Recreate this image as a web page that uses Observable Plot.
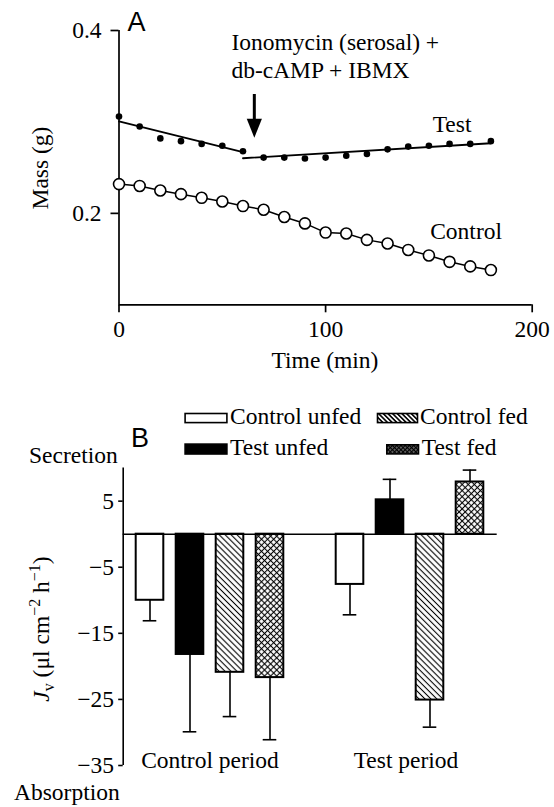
<!DOCTYPE html>
<html><head><meta charset="utf-8">
<script src="https://cdn.jsdelivr.net/npm/d3@7"></script>
<script src="https://cdn.jsdelivr.net/npm/@observablehq/plot@0.6"></script>
<style>
body{margin:0;background:#fff;}
#wrap{position:relative;width:554px;height:807px;overflow:hidden;}
#wrap > svg{display:block;}
#overlay{position:absolute;left:0;top:0;pointer-events:none;}
</style></head><body>
<svg width="0" height="0" style="position:absolute">
<defs>
<pattern id="hatch" patternUnits="userSpaceOnUse" width="4.2" height="4.2" patternTransform="rotate(-45)">
<rect width="4.2" height="4.2" fill="#fff"/><line x1="2.1" y1="-1" x2="2.1" y2="5.2" stroke="#000" stroke-width="1.1"/></pattern>
<pattern id="cross" patternUnits="userSpaceOnUse" width="4.3" height="4.3" patternTransform="rotate(45)">
<rect width="4.3" height="4.3" fill="#fff"/><line x1="2.15" y1="-1" x2="2.15" y2="5.3" stroke="#000" stroke-width="1.1"/><line x1="-1" y1="2.15" x2="5.3" y2="2.15" stroke="#000" stroke-width="1.1"/></pattern>
<pattern id="hatchL" patternUnits="userSpaceOnUse" width="3.3" height="3.3" patternTransform="rotate(-45)">
<rect width="3.3" height="3.3" fill="#fff"/><line x1="1.65" y1="-1" x2="1.65" y2="4.3" stroke="#000" stroke-width="1.6"/></pattern>
<pattern id="crossL" patternUnits="userSpaceOnUse" width="3" height="3" patternTransform="rotate(45)">
<rect width="3" height="3" fill="#fff"/><line x1="1.5" y1="-1" x2="1.5" y2="4" stroke="#000" stroke-width="1.8"/><line x1="-1" y1="1.5" x2="4" y2="1.5" stroke="#000" stroke-width="1.8"/></pattern>
</defs></svg>
<div id="wrap"></div>
<script>
// ---------- Panel A data ----------
const times = [0,10,20,30,40,50,60,70,80,90,100,110,120,130,140,150,160,170,180];
const testMass = [0.306,0.295,0.282,0.279,0.276,0.274,0.268,0.261,0.261,0.260,0.261,0.263,0.265,0.270,0.273,0.274,0.276,0.276,0.279];
const controlMass = [0.232,0.230,0.225,0.221,0.217,0.213,0.208,0.204,0.196,0.189,0.179,0.178,0.171,0.167,0.160,0.154,0.147,0.142,0.138];
const fit1Time = [0, 60], fit1Mass = [0.3005, 0.2669];
const fit2Time = [60, 180], fit2Mass = [0.2603, 0.2767];
const xTicksA = [0, 100, 200];
const yTicksA = [0.2, 0.4];
const arrowTime = 65.5, arrowTop = 0.330, arrowShaftEnd = 0.296, arrowTip = 0.2826;
const annotLines = ["Ionomycin (serosal) +", "db-cAMP + IBMX"];
const annotTime = 54.4, annotMass = [0.3874, 0.3568];
const seriesLabels = [{t: 161.2, m: 0.2977, text: "Test"}, {t: 168, m: 0.1807, text: "Control"}];

// ---------- Panel B data ----------
const periods = ["Control period", "Test period"];
const groups = ["Control unfed", "Test unfed", "Control fed", "Test fed"];
const jvControl = [-10.0, -18.2, -20.9, -21.7];
const semControl = [3.1, 11.7, 6.7, 9.4];
const jvTest = [-7.6, 5.2, -25.1, 7.9];
const semTest = [4.6, 3.1, 4.1, 1.8];
const yTicksB = [5, -5, -15, -25, -35];
const groupFill = {"Control unfed": "white", "Test unfed": "black", "Control fed": "url(#hatch)", "Test fed": "url(#cross)"};
const legendFill = {"Control unfed": "white", "Test unfed": "black", "Control fed": "url(#hatchL)", "Test fed": "url(#crossL)"};

const testData = times.map((t, i) => ({t, m: testMass[i]}));
const controlData = times.map((t, i) => ({t, m: controlMass[i]}));
const fit1 = fit1Time.map((t, i) => ({t, m: fit1Mass[i]}));
const fit2 = fit2Time.map((t, i) => ({t, m: fit2Mass[i]}));
const annot = annotLines.map((text, i) => ({t: annotTime, m: annotMass[i], text}));

const downTri = {draw(ctx, size) {
  const r = Math.sqrt(size / Math.PI), h = 2 * r, w = 1.6 * r;
  ctx.moveTo(0, 0); ctx.lineTo(-w / 2, -h); ctx.lineTo(w / 2, -h); ctx.closePath();
}};

const serif = "font-family:'Liberation Serif','Times New Roman',serif;font-size:23.5px;overflow:visible;background:transparent;";

const plotA = Plot.plot({
  width: 554, height: 372,
  marginTop: 30, marginBottom: 67.7, marginLeft: 118.5, marginRight: 22.3,
  style: serif,
  x: {domain: [0, 200]},
  y: {domain: [0.1, 0.4]},
  marks: [
    Plot.ruleX([0], {strokeWidth: 1.7}),
    Plot.ruleY([0.1], {strokeWidth: 1.7}),
    Plot.axisX({ticks: xTicksA, tickSize: 8, tickPadding: 7.7, strokeWidth: 1.7, label: null}),
    Plot.axisY({ticks: yTicksA, tickSize: 8, tickPadding: 9.5, strokeWidth: 1.7, tickFormat: d3.format(".1f"), label: null}),
    Plot.line(controlData, {x: "t", y: "m", strokeWidth: 1.5}),
    Plot.dot(controlData, {x: "t", y: "m", r: 5.5, fill: "white", stroke: "black", strokeWidth: 1.6}),
    Plot.line(fit1, {x: "t", y: "m", strokeWidth: 1.8}),
    Plot.line(fit2, {x: "t", y: "m", strokeWidth: 1.8}),
    Plot.dot(testData, {x: "t", y: "m", r: 3.3, fill: "black", stroke: "none"}),
    Plot.ruleX([arrowTime], {x: d => d, y1: arrowTop, y2: arrowShaftEnd, strokeWidth: 3}),
    Plot.dot([arrowTime], {x: d => d, y: arrowTip, symbol: downTri, r: 9.5, fill: "black", stroke: "none"}),
    Plot.text(annot, {x: "t", y: "m", text: "text", textAnchor: "start", fill: "black"}),
    Plot.text(seriesLabels, {x: "t", y: "m", text: "text", fill: "black"})
  ]
});

const bars = [];
[jvControl, jvTest].forEach((vals, p) => {
  const sems = p === 0 ? semControl : semTest;
  vals.forEach((v, g) => {
    const slot = p * 5 + g;
    const end = v + Math.sign(v) * sems[g];
    bars.push({period: periods[p], group: groups[g], slot, v, end, fill: groupFill[groups[g]]});
  });
});
const xDomainB = [-0.67, 8.68];
const periodText = periods.map((text, p) => ({text, x: p === 0 ? 1.5 : 6.4}));

const plotB = Plot.plot({
  width: 554, height: 435,
  marginTop: 95.6, marginBottom: 42, marginLeft: 122.7, marginRight: 57.3,
  style: serif,
  x: {domain: xDomainB, axis: null},
  y: {domain: [-35, 10]},
  color: {type: "identity"},
  marks: [
    Plot.ruleX([xDomainB[0]], {strokeWidth: 1.6}),
    Plot.axisY({ticks: yTicksB, tickSize: 4.5, tickPadding: 4.6, strokeWidth: 1.6, label: null}),
    Plot.ruleX(bars, {x: "slot", y1: "v", y2: "end", strokeWidth: 1.6}),
    Plot.ruleY(bars, {y: "end", x1: d => d.slot - 0.17, x2: d => d.slot + 0.17, strokeWidth: 1.6}),
    Plot.rect(bars, {x1: d => d.slot - 0.345, x2: d => d.slot + 0.345, y1: 0, y2: "v", fill: "fill", stroke: "black", strokeWidth: 2}),
    Plot.ruleY([0], {strokeWidth: 1.6}),
    Plot.text(periodText, {x: "x", y: -34.3, text: "text", fill: "black"})
  ]
});

const wrap = document.getElementById("wrap");
wrap.appendChild(plotA);
wrap.appendChild(plotB);

// ---------- overlay: panel letters, axis titles, legend ----------
const ov = d3.select(wrap).append("svg").attr("id", "overlay")
  .attr("width", 554).attr("height", 807)
  .style("font-family", "'Liberation Serif','Times New Roman',serif").style("font-size", "23.5px");

ov.append("text").attr("x", 127.5).attr("y", 31).style("font-family", "'Liberation Sans',Arial,sans-serif").style("font-size", "27px").text("A");
ov.append("text").attr("x", 131).attr("y", 447).style("font-family", "'Liberation Sans',Arial,sans-serif").style("font-size", "27px").text("B");

ov.append("text").attr("transform", "translate(48,168) rotate(-90)").attr("text-anchor", "middle").text("Mass (g)");
ov.append("text").attr("x", 325).attr("y", 368).attr("text-anchor", "middle").text("Time (min)");

ov.append("text").attr("x", 29).attr("y", 463).text("Secretion");
ov.append("text").attr("x", 14).attr("y", 800).text("Absorption");

const jl = ov.append("text").attr("transform", "translate(48.5,629) rotate(-90)").attr("text-anchor", "middle");
jl.append("tspan").style("font-style", "italic").text("J");
jl.append("tspan").attr("dy", 5).style("font-size", "16px").text("v");
jl.append("tspan").attr("dy", -5).text(" (\u03bcl cm");
jl.append("tspan").attr("dy", -9).style("font-size", "16px").text("\u22122");
jl.append("tspan").attr("dy", 9).text(" h");
jl.append("tspan").attr("dy", -9).style("font-size", "16px").text("\u22121");
jl.append("tspan").attr("dy", 9).text(")");

const legendItems = [
  {g: "Control unfed", rx: 184.3, ry: 412.7, rw: 43.4, rh: 10.7, tx: 230, ty: 424.3},
  {g: "Control fed", rx: 376.7, ry: 412.7, rw: 41.6, rh: 10.7, tx: 420, ty: 424.3},
  {g: "Test unfed", rx: 184.3, ry: 443.3, rw: 43.4, rh: 11.5, tx: 230, ty: 455},
  {g: "Test fed", rx: 386, ry: 444, rw: 33.3, rh: 10.7, tx: 421.7, ty: 455}
];
legendItems.forEach(d => {
  ov.append("rect").attr("x", d.rx + 0.8).attr("y", d.ry + 0.8).attr("width", d.rw - 1.6).attr("height", d.rh - 1.6)
    .attr("fill", legendFill[d.g]).attr("stroke", "black").attr("stroke-width", 1.6);
  ov.append("text").attr("x", d.tx).attr("y", d.ty).text(d.g);
});
</script>
</body></html>
